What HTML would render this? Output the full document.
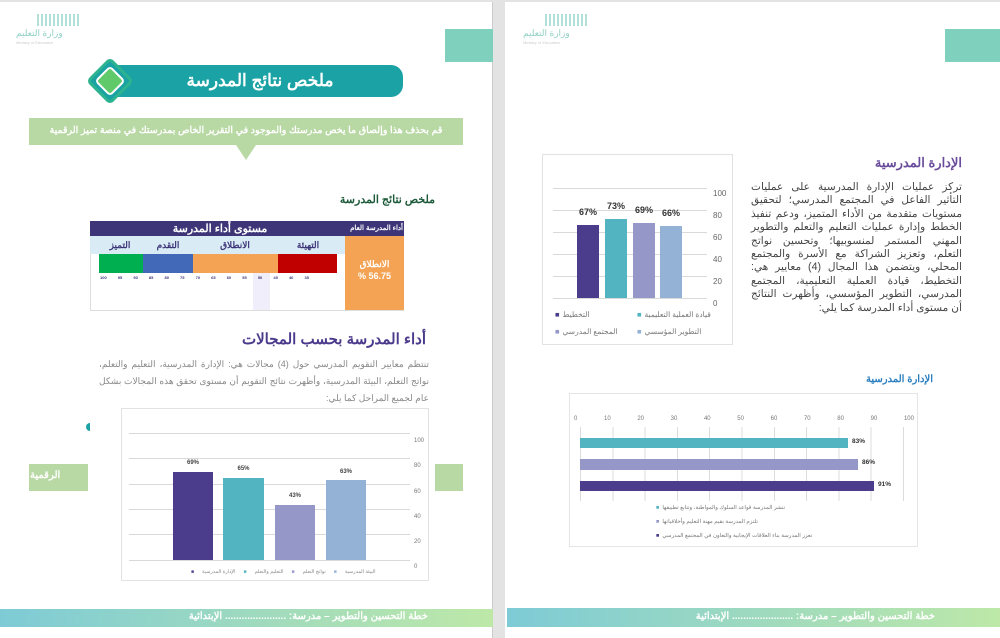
<!DOCTYPE html>
<html><head><meta charset="utf-8"><style>
*{margin:0;padding:0;box-sizing:border-box}
body{width:1000px;height:638px;background:#e3e3e3;position:relative;overflow:hidden;font-family:"Liberation Sans","Noto Sans CJK SC",sans-serif}
.a{position:absolute}
.page{position:absolute;background:#fff;top:2px;height:636px}
.t{position:absolute;white-space:nowrap;direction:rtl}
.grid{position:absolute;height:1px;background:#d9d9d9}
.lg{position:absolute;display:flex;gap:8px;white-space:nowrap;color:#888;direction:ltr}
.lg span{unicode-bidi:isolate;direction:rtl}
</style></head><body>
<div class="page" style="left:0;width:493px;border-right:1px solid #ccc"></div>
<div class="page" style="left:505px;width:495px"></div>

<div class="a" style="left:37px;top:14px;width:43px;height:12px;background:repeating-linear-gradient(90deg,#9fd9cf 0 2px,transparent 2px 4px);opacity:.8"></div>
<div class="t" style="left:16px;top:28px;font-size:9px;color:#8fd0c4">وزارة التعليم</div>
<div class="t" style="left:16px;top:40px;font-size:4px;color:#ccc;direction:ltr">Ministry of Education</div>
<div class="a" style="left:545px;top:14px;width:43px;height:12px;background:repeating-linear-gradient(90deg,#9fd9cf 0 2px,transparent 2px 4px);opacity:.8"></div>
<div class="t" style="left:523px;top:28px;font-size:9px;color:#8fd0c4">وزارة التعليم</div>
<div class="t" style="left:523px;top:40px;font-size:4px;color:#ccc;direction:ltr">Ministry of Education</div>
<div class="a" style="left:445px;top:29px;width:48px;height:33px;background:#7fd0bd"></div>
<div class="a" style="left:945px;top:29px;width:55px;height:33px;background:#7fd0bd"></div>

<!-- LEFT PAGE -->
<div class="a" style="left:118px;top:65px;width:285px;height:32px;background:#1aa2a4;border-radius:0 12px 12px 0"></div>
<div class="a" style="left:93px;top:64px;width:34px;height:34px;background:#1aa2a4;transform:rotate(45deg);border-radius:5px;border:3px solid #2db38f"></div>
<div class="a" style="left:99px;top:70px;width:22px;height:22px;background:#60c96a;transform:rotate(45deg);border-radius:4px;border:2px solid #fff"></div>
<div class="t" style="left:150px;top:71px;width:220px;text-align:center;font-size:17px;font-weight:bold;color:#fff">ملخص نتائج المدرسة</div>

<div class="a" style="left:29px;top:118px;width:434px;height:27px;background:#b8d8a4"></div>
<div class="t" style="left:29px;top:125px;width:434px;text-align:center;font-size:9.5px;font-weight:bold;color:#fff">قم بحذف هذا وإلصاق ما يخص مدرستك والموجود في التقرير الخاص بمدرستك في منصة تميز الرقمية</div>
<div class="a" style="left:236px;top:145px;width:0;height:0;border-left:10px solid transparent;border-right:10px solid transparent;border-top:15px solid #b8d8a4"></div>

<div class="t" style="left:330px;top:193px;width:105px;text-align:right;font-size:11px;font-weight:bold;color:#1d5a3a">ملخص نتائج المدرسة</div>

<div class="a" style="left:90px;top:221px;width:314px;height:90px;border:1px solid #ddd;background:#fff"></div>
<div class="a" style="left:90px;top:221px;width:314px;height:15px;background:#3d3578"></div>
<div class="t" style="left:140px;top:222px;width:160px;text-align:center;font-size:11px;font-weight:bold;color:#fff">مستوى أداء المدرسة</div>
<div class="t" style="left:346px;top:224px;width:57px;text-align:right;font-size:7px;font-weight:bold;color:#fff">أداء المدرسة العام</div>
<div class="a" style="left:90px;top:236px;width:255px;height:18px;background:#d9ecf6"></div>
<div class="t" style="left:100px;top:240px;width:40px;text-align:center;font-size:9px;font-weight:bold;color:#3d3578">التميز</div>
<div class="t" style="left:148px;top:240px;width:40px;text-align:center;font-size:9px;font-weight:bold;color:#3d3578">التقدم</div>
<div class="t" style="left:210px;top:240px;width:50px;text-align:center;font-size:9px;font-weight:bold;color:#3d3578">الانطلاق</div>
<div class="t" style="left:288px;top:240px;width:40px;text-align:center;font-size:9px;font-weight:bold;color:#3d3578">التهيئة</div>
<div class="a" style="left:345px;top:236px;width:59px;height:74px;background:#f4a354"></div>
<div class="t" style="left:345px;top:258px;width:59px;text-align:center;font-size:9px;font-weight:bold;color:#fff;line-height:12px">الانطلاق<br>56.75 %</div>
<div class="a" style="left:99px;top:254px;width:44px;height:19px;background:#00b050"></div>
<div class="a" style="left:143px;top:254px;width:50px;height:19px;background:#4169b8"></div>
<div class="a" style="left:193px;top:254px;width:85px;height:19px;background:#f4a354"></div>
<div class="a" style="left:278px;top:254px;width:59px;height:19px;background:#c00000"></div>
<div class="a" style="left:253px;top:273px;width:17px;height:37px;background:#f0eefa"></div>
<div class="a" style="left:100px;top:275px;font-size:4px;color:#3d3578;font-weight:bold;word-spacing:10px;white-space:nowrap">100 95 90 85 80 75 70 65 60 55 50 45 40 35</div>

<div class="t" style="left:200px;top:330px;width:226px;text-align:right;font-size:15px;font-weight:bold;color:#4b3a8c">أداء المدرسة بحسب المجالات</div>
<div class="t" style="left:99px;top:356px;width:330px;white-space:normal;text-align:justify;text-align-last:right;font-size:9px;line-height:17px;color:#888">تنتظم معايير التقويم المدرسي حول (4) مجالات هي: الإدارة المدرسية، التعليم والتعلم، نواتج التعلم، البيئة المدرسية، وأظهرت نتائج التقويم أن مستوى تحقق هذه المجالات بشكل عام لجميع المراحل كما يلي:</div>

<div class="a" style="left:29px;top:464px;width:59px;height:27px;background:#b8d8a4"></div>
<div class="t" style="left:30px;top:470px;width:56px;text-align:left;font-size:10px;font-weight:bold;color:#fff;overflow:hidden">الرقمية</div>
<div class="a" style="left:435px;top:464px;width:28px;height:27px;background:#b8d8a4"></div>
<div class="a" style="left:86px;top:423px;width:4px;height:8px;background:#1aa2a4;border-radius:4px 0 0 4px"></div>

<div class="a" style="left:121px;top:408px;width:308px;height:173px;border:1px solid #e2e2e2;background:#fff"></div>
<div class="grid" style="left:129px;width:281px;top:433px"></div>
<div class="grid" style="left:129px;width:281px;top:458px"></div>
<div class="grid" style="left:129px;width:281px;top:484px"></div>
<div class="grid" style="left:129px;width:281px;top:509px"></div>
<div class="grid" style="left:129px;width:281px;top:534px"></div>
<div class="grid" style="left:129px;width:281px;top:560px"></div>
<div class="a" style="left:414px;top:429px;font-size:6px;color:#777;line-height:25.3px">100<br>80<br>60<br>40<br>20<br>0</div>
<div class="a" style="left:173px;top:472px;width:40px;height:88px;background:#4b3c8c"></div>
<div class="a" style="left:223px;top:478px;width:41px;height:82px;background:#52b4c0"></div>
<div class="a" style="left:275px;top:505px;width:40px;height:55px;background:#9597c8"></div>
<div class="a" style="left:326px;top:480px;width:40px;height:80px;background:#93b2d6"></div>
<div class="a" style="left:173px;top:460px;width:40px;text-align:center;font-size:6px;font-weight:bold;color:#444">69%</div>
<div class="a" style="left:223px;top:466px;width:41px;text-align:center;font-size:6px;font-weight:bold;color:#444">65%</div>
<div class="a" style="left:275px;top:493px;width:40px;text-align:center;font-size:6px;font-weight:bold;color:#444">43%</div>
<div class="a" style="left:326px;top:469px;width:40px;text-align:center;font-size:6px;font-weight:bold;color:#444">63%</div>
<div class="lg" style="left:191px;top:569px;font-size:5px"><b style="color:#4b3c8c">■</b><span>الإدارة المدرسية</span><b style="color:#52b4c0">■</b><span>التعليم والتعلم</span><b style="color:#9597c8">■</b><span>نواتج التعلم</span><b style="color:#93b2d6">■</b><span>البيئة المدرسية</span></div>

<div class="a" style="left:0;top:609px;width:493px;height:18px;background:linear-gradient(90deg,#7ecbd6,#bde8a8)"></div>
<div class="t" style="left:180px;top:611px;width:248px;text-align:right;font-size:10px;font-weight:bold;color:#fff">خطة التحسين والتطوير – مدرسة: ...................... الإبتدائية</div>

<!-- RIGHT PAGE -->
<div class="a" style="left:542px;top:154px;width:191px;height:191px;border:1px solid #e2e2e2"></div>
<div class="grid" style="left:553px;width:154px;top:188px"></div>
<div class="grid" style="left:553px;width:154px;top:210px"></div>
<div class="grid" style="left:553px;width:154px;top:232px"></div>
<div class="grid" style="left:553px;width:154px;top:254px"></div>
<div class="grid" style="left:553px;width:154px;top:276px"></div>
<div class="grid" style="left:553px;width:154px;top:298px"></div>
<div class="a" style="left:713px;top:183px;font-size:8px;color:#666;line-height:22px">100<br>80<br>60<br>40<br>20<br>0</div>
<div class="a" style="left:577px;top:225px;width:22px;height:73px;background:#4b3c8c"></div>
<div class="a" style="left:605px;top:219px;width:22px;height:79px;background:#52b4c0"></div>
<div class="a" style="left:633px;top:223px;width:22px;height:75px;background:#9597c8"></div>
<div class="a" style="left:660px;top:226px;width:22px;height:72px;background:#93b2d6"></div>
<div class="a" style="left:572px;top:207px;width:32px;text-align:center;font-size:9px;font-weight:bold;color:#333">67%</div>
<div class="a" style="left:600px;top:201px;width:32px;text-align:center;font-size:9px;font-weight:bold;color:#333">73%</div>
<div class="a" style="left:628px;top:205px;width:32px;text-align:center;font-size:9px;font-weight:bold;color:#333">69%</div>
<div class="a" style="left:655px;top:208px;width:32px;text-align:center;font-size:9px;font-weight:bold;color:#333">66%</div>
<div class="lg" style="left:555px;top:310px;font-size:7.5px;color:#777;gap:3px"><b style="color:#4b3c8c">■</b><span>التخطيط</span></div>
<div class="lg" style="left:637px;top:310px;font-size:7.5px;color:#777;gap:3px"><b style="color:#52b4c0">■</b><span>قيادة العملية التعليمية</span></div>
<div class="lg" style="left:555px;top:327px;font-size:7.5px;color:#777;gap:3px"><b style="color:#9597c8">■</b><span>المجتمع المدرسي</span></div>
<div class="lg" style="left:637px;top:327px;font-size:7.5px;color:#777;gap:3px"><b style="color:#93b2d6">■</b><span>التطوير المؤسسي</span></div>

<div class="t" style="left:820px;top:155px;width:142px;text-align:right;font-size:13px;font-weight:bold;color:#6a4c9c">الإدارة المدرسية</div>
<div class="t" style="left:751px;top:181px;width:211px;white-space:normal;text-align:justify;text-align-last:right;font-size:10.6px;line-height:13.4px;color:#444">تركز عمليات الإدارة المدرسية على عمليات التأثير الفاعل في المجتمع المدرسي؛ لتحقيق مستويات متقدمة من الأداء المتميز، ودعم تنفيذ الخطط وإدارة عمليات التعليم والتعلم والتطوير المهني المستمر لمنسوبيها؛ وتحسين نواتج التعلم، وتعزيز الشراكة مع الأسرة والمجتمع المحلي، ويتضمن هذا المجال (4) معايير هي: التخطيط، قيادة العملية التعليمية، المجتمع المدرسي، التطوير المؤسسي، وأظهرت النتائج أن مستوى أداء المدرسة كما يلي:</div>

<div class="t" style="left:833px;top:374px;width:100px;text-align:right;font-size:10px;font-weight:bold;color:#2a7fc0">الإدارة المدرسية</div>
<div class="a" style="left:569px;top:393px;width:349px;height:154px;border:1px solid #e5e5e5"></div>
<div class="a" style="left:580px;top:427px;width:324px;height:74px;background:repeating-linear-gradient(90deg,#dcdcdc 0 1px,transparent 1px 32.3px)"></div>
<div class="a" style="left:903px;top:427px;width:1px;height:74px;background:#dcdcdc"></div>
<div class="a" style="left:574px;top:416px;width:340px;font-size:6px;color:#777;display:flex;justify-content:space-between"><span>0</span><span>10</span><span>20</span><span>30</span><span>40</span><span>50</span><span>60</span><span>70</span><span>80</span><span>90</span><span>100</span></div>
<div class="a" style="left:580px;top:438px;width:268px;height:10px;background:#52b4c0"></div>
<div class="a" style="left:580px;top:459px;width:278px;height:11px;background:#9597c8"></div>
<div class="a" style="left:580px;top:481px;width:294px;height:10px;background:#4b3c8c"></div>
<div class="a" style="left:852px;top:438px;font-size:6.5px;font-weight:bold;color:#333">83%</div>
<div class="a" style="left:862px;top:459px;font-size:6.5px;font-weight:bold;color:#333">86%</div>
<div class="a" style="left:878px;top:481px;font-size:6.5px;font-weight:bold;color:#333">91%</div>
<div class="lg" style="left:656px;top:505px;font-size:5.5px;color:#777;gap:3px"><b style="color:#52b4c0">■</b><span>تنشر المدرسة قواعد السلوك والمواطنة، وتتابع تطبيقها</span></div>
<div class="lg" style="left:656px;top:519px;font-size:5.5px;color:#777;gap:3px"><b style="color:#9597c8">■</b><span>تلتزم المدرسة بقيم مهنة التعليم وأخلاقياتها</span></div>
<div class="lg" style="left:656px;top:533px;font-size:5.5px;color:#777;gap:3px"><b style="color:#4b3c8c">■</b><span>تعزز المدرسة بناء العلاقات الإيجابية والتعاون في المجتمع المدرسي</span></div>

<div class="a" style="left:507px;top:608px;width:493px;height:19px;background:linear-gradient(90deg,#7ecbd6,#bde8a8)"></div>
<div class="t" style="left:690px;top:611px;width:245px;text-align:right;font-size:10px;font-weight:bold;color:#fff">خطة التحسين والتطوير – مدرسة: ...................... الإبتدائية</div>
</body></html>
